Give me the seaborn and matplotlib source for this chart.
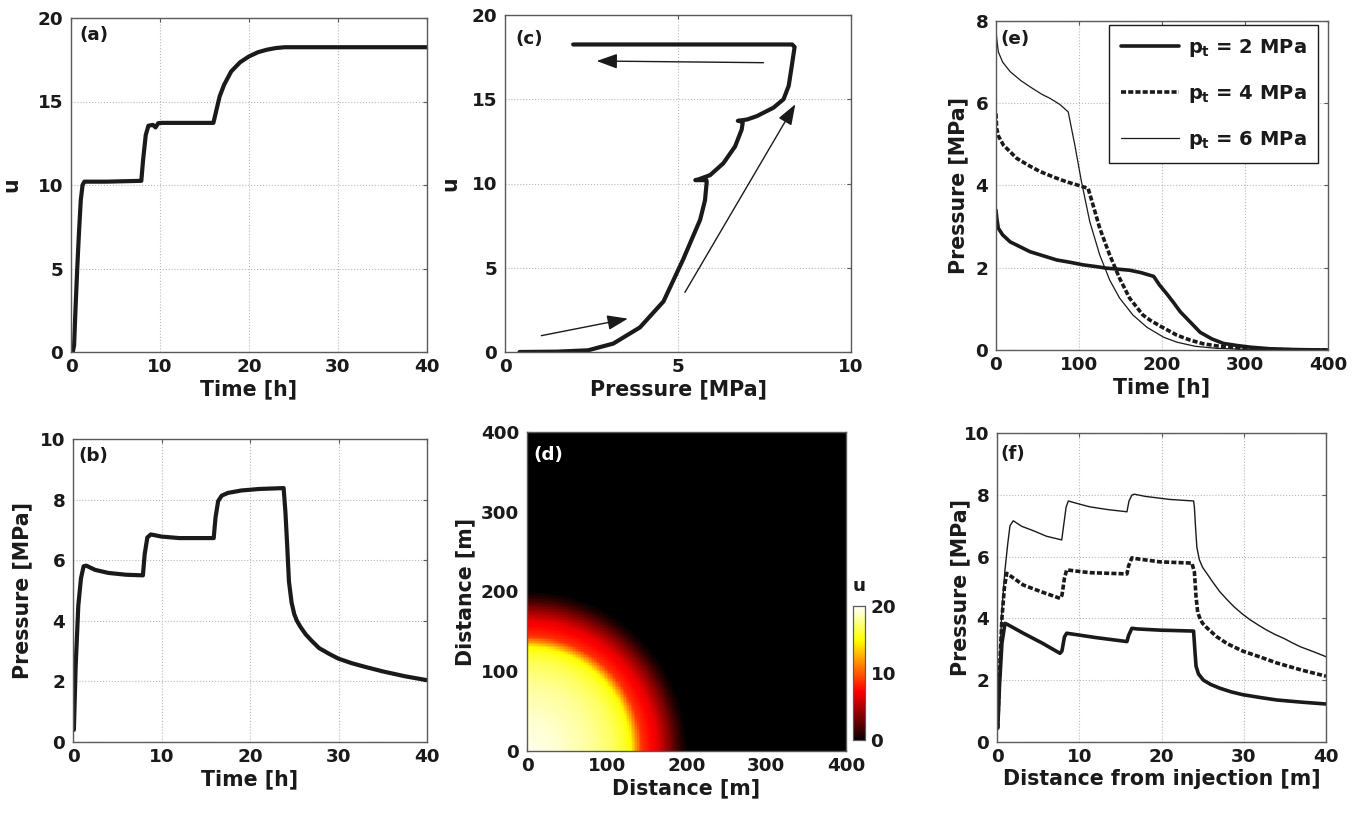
import numpy as np
import pandas as pd
import matplotlib
matplotlib.use("Agg")
import matplotlib.pyplot as plt
from matplotlib.colors import ListedColormap
import seaborn as sns

# ---------------- data ----------------
# (a) u vs time
t_a = [0, 0.2, 0.35, 0.5, 0.7, 0.9, 1.1, 1.3, 1.5, 4, 7.9, 8.1, 8.4, 8.7, 9.2, 9.5, 9.8, 10.2,
       16.0, 16.3, 16.7, 17.2, 18.0, 19.0, 20.0, 21.0, 22.0, 23.0, 24.0, 30, 40]
u_a = [0, 0, 0.4, 2.5, 5.0, 7.2, 9.1, 10.0, 10.2, 10.2, 10.25, 11.5, 13.0, 13.55, 13.6, 13.45, 13.7, 13.72,
       13.72, 14.4, 15.3, 16.0, 16.8, 17.35, 17.7, 17.95, 18.1, 18.2, 18.25, 18.25, 18.25]

# (b) pressure vs time
t_b = [0.1, 0.3, 0.6, 0.9, 1.2, 1.5, 2.5, 4, 6, 7.9, 8.1, 8.4, 8.8, 10, 12, 15.9, 16.1, 16.4, 16.8,
       17.5, 19, 21, 23.8, 24.0, 24.2, 24.4, 24.7, 25.0, 25.3, 25.7, 26.3, 27.0, 27.8, 29.0, 30.0, 31.5,
       33.0, 35.0, 37.5, 40]
p_b = [0.4, 2.5, 4.5, 5.4, 5.8, 5.82, 5.68, 5.58, 5.52, 5.5, 6.2, 6.75, 6.85, 6.78, 6.73, 6.73, 7.4, 7.95, 8.13,
       8.22, 8.3, 8.35, 8.38, 7.6, 6.5, 5.3, 4.6, 4.22, 4.0, 3.8, 3.55, 3.33, 3.1, 2.9, 2.75, 2.6,
       2.48, 2.33, 2.17, 2.04]

# (c) u vs pressure
p_c = [0.42, 1.5, 2.4, 3.13, 3.9, 4.58, 5.15, 5.64, 5.78, 5.83, 5.82, 5.65, 5.5, 5.6, 5.93, 6.31, 6.65,
       6.84, 6.87, 6.8, 6.73, 7.0, 7.28, 7.76, 8.05, 8.2, 8.29, 8.37, 8.3, 6.0, 4.0, 1.97]
u_c = [0, 0.02, 0.1, 0.5, 1.46, 3.0, 5.5, 7.85, 9.0, 10.1, 10.2, 10.2, 10.2, 10.25, 10.5, 11.2, 12.2,
       13.2, 13.6, 13.7, 13.72, 13.8, 14.0, 14.5, 15.0, 15.8, 17.0, 18.1, 18.25, 18.25, 18.25, 18.25]
# arrows in (c): (start P, start u, end P, end u)
arrows_c = [(1.05, 0.97, 3.55, 1.98), (5.2, 3.54, 8.39, 14.7), (7.47, 17.17, 2.65, 17.27)]

# (d) radial profile of u (distance [m] -> u)
r_d = [0, 40, 80, 108, 124, 131, 137, 144, 154, 164, 172, 180, 187, 194, 200, 600]
u_d = [19.6, 19.0, 18.0, 16.8, 15.6, 14.6, 11.8, 8.8, 7.6, 6.6, 5.0, 3.4, 1.9, 0.6, 0, 0]
d_ticks = [0, 100, 200, 300, 400]

# (e) pressure vs time for three p_t
labels_e = ["$p_t$ = 2 MPa", "$p_t$ = 4 MPa", "$p_t$ = 6 MPa"]
t_e2 = [0, 1, 2.8, 8, 17, 30, 41, 57, 73, 90, 105, 120, 133, 150, 161, 175, 190, 197, 206, 214, 222,
        234, 246, 260, 274, 290, 306, 330, 360, 400]
p_e2 = [3.4, 3.2, 2.96, 2.8, 2.63, 2.5, 2.39, 2.29, 2.19, 2.13, 2.07, 2.03, 1.99, 1.96, 1.94, 1.88, 1.79,
        1.58, 1.36, 1.15, 0.93, 0.68, 0.43, 0.27, 0.16, 0.11, 0.07, 0.03, 0.01, 0]
t_e4 = [0, 0.8, 3, 9, 25, 40, 53, 70, 85, 100, 111, 117, 125, 137, 149, 161, 177, 186, 198, 218, 234,
        250, 266, 300, 340, 400]
p_e4 = [5.75, 5.39, 5.2, 4.98, 4.66, 4.48, 4.34, 4.2, 4.09, 4.0, 3.93, 3.52, 2.96, 2.31, 1.74, 1.26,
        0.85, 0.72, 0.58, 0.36, 0.24, 0.15, 0.1, 0.04, 0.01, 0]
t_e6 = [0, 1, 2.8, 8, 17, 30, 41, 55, 65, 77, 87, 95, 103, 113, 125, 137, 149, 165, 182, 202, 218,
        240, 266, 300, 350, 400]
p_e6 = [7.78, 7.55, 7.25, 7.0, 6.77, 6.55, 6.4, 6.22, 6.12, 5.97, 5.79, 4.98, 4.09, 3.12, 2.31, 1.70,
        1.26, 0.85, 0.55, 0.31, 0.19, 0.09, 0.04, 0.015, 0, 0]

# (f) pressure vs distance for three p_t
x_f2 = [0.1, 0.3, 0.6, 0.97, 1.3, 3.2, 5.5, 7.66, 7.9, 8.2, 8.47, 10, 12, 15.8, 16.0, 16.4, 17, 19.8,
        23.9, 24.05, 24.2, 24.5, 25.1, 26, 27.1, 28.5, 29.9, 32, 34, 37, 40]
p_f2 = [0.45, 1.8, 3.2, 3.84, 3.8, 3.52, 3.2, 2.87, 2.95, 3.4, 3.52, 3.46, 3.38, 3.25, 3.45, 3.68, 3.66,
        3.62, 3.59, 3.0, 2.45, 2.2, 2.0, 1.86, 1.74, 1.62, 1.53, 1.44, 1.36, 1.29, 1.23]
x_f4 = [0.1, 0.3, 0.6, 0.9, 1.18, 1.5, 3.2, 5.5, 7.66, 7.9, 8.2, 8.47, 10, 11.3, 13.5, 15.8, 16.0, 16.4,
        17, 19.8, 23.7, 24.0, 24.2, 24.4, 24.7, 25.0, 25.5, 26.7, 28, 29.9, 32, 34, 37, 40]
p_f4 = [0.45, 2.3, 4.0, 5.0, 5.46, 5.4, 5.08, 4.85, 4.65, 4.75, 5.3, 5.57, 5.52, 5.48, 5.46, 5.44, 5.7,
        5.96, 5.93, 5.83, 5.79, 5.5, 4.7, 4.2, 3.98, 3.84, 3.7, 3.41, 3.18, 2.94, 2.75, 2.56, 2.33, 2.13]
x_f6 = [0.1, 0.3, 0.6, 0.97, 1.3, 1.58, 1.98, 3, 4.4, 6, 7.87, 8.1, 8.4, 8.67, 10, 11.3, 13.5, 15.8,
        16.05, 16.4, 16.7, 18, 21, 23.9, 24.0, 24.15, 24.3, 24.6, 25.0, 25.5, 26.3, 27.1, 28.0, 28.8,
        29.8, 30.8, 31.8, 32.8, 33.8, 34.9, 35.9, 36.9, 38.5, 40]
p_f6 = [0.45, 2.5, 4.3, 5.57, 6.4, 7.0, 7.16, 6.98, 6.84, 6.66, 6.54, 7.0, 7.6, 7.8, 7.7, 7.61, 7.52,
        7.45, 7.8, 7.99, 8.02, 7.95, 7.85, 7.8, 7.6, 6.9, 6.3, 5.9, 5.65, 5.46, 5.15, 4.86, 4.6, 4.38,
        4.15, 3.95, 3.78, 3.62, 3.48, 3.35, 3.21, 3.08, 2.92, 2.76]

# ---------------- style ----------------
sns.set_theme(style="white")
plt.rcParams["font.family"] = ["DejaVu Sans"]
plt.rcParams["font.weight"] = "bold"
plt.rcParams["axes.labelweight"] = "bold"
plt.rcParams["text.color"] = "black"
plt.rcParams["axes.labelcolor"] = "black"
plt.rcParams["xtick.color"] = "black"
plt.rcParams["ytick.color"] = "black"
plt.rcParams["mathtext.fontset"] = "custom"
plt.rcParams["mathtext.rm"] = "DejaVu Sans:bold"
plt.rcParams["mathtext.it"] = "DejaVu Sans:bold"
plt.rcParams["mathtext.bf"] = "DejaVu Sans:bold"

W, H = 1362, 814
fig = plt.figure(figsize=(W / 100, H / 100), dpi=100)
TICK, LAB, PAN = 13.2, 14.8, 13.2
SPINE = "#5a5a5a"


def add_ax(l, r, t, b):
    return fig.add_axes([l / W, 1 - b / H, (r - l) / W, (b - t) / H])


def style(ax, xlim, ylim, xticks, yticks, xlabel, ylabel, ylab_x, panel, pxy, grid=True, pcolor="k"):
    ax.set_xlim(xlim)
    ax.set_ylim(ylim)
    ax.set_xticks(xticks)
    ax.set_yticks(yticks)
    ax.set_xticklabels([str(v) for v in xticks])
    ax.set_yticklabels([str(v) for v in yticks])
    ax.tick_params(direction="in", length=3, width=0.8, color=SPINE, labelcolor="k",
                   top=True, right=True, labelsize=TICK)
    ax.tick_params(axis="x", pad=4.5)
    ax.tick_params(axis="y", pad=5.5)
    for s in ax.spines.values():
        s.set_visible(True)
        s.set_color(SPINE)
        s.set_linewidth(1.0)
    if grid:
        ax.grid(True, linestyle=":", color="#b8b8b8", linewidth=0.8)
        ax.set_axisbelow(True)
    ax.set_xlabel(xlabel, fontsize=LAB, fontweight="bold", labelpad=2, color="k")
    ax.set_ylabel(ylabel, fontsize=LAB, fontweight="bold", color="k")
    ax.yaxis.set_label_coords(ylab_x, 0.5)
    ax.text(pxy[0], pxy[1], panel, transform=ax.transAxes, ha="left", va="top",
            fontsize=PAN, fontweight="bold", color=pcolor)


# (a)
ax_a = add_ax(71, 427, 18, 352)
sns.lineplot(x=t_a, y=u_a, ax=ax_a, color="k", lw=3, sort=False, estimator=None)
style(ax_a, (0, 40), (0, 20), [0, 10, 20, 30, 40], [0, 5, 10, 15, 20], "Time [h]", "u", -0.14,
      "(a)", (0.023, 0.975))

# (b)
ax_b = add_ax(73, 427, 439, 742)
sns.lineplot(x=t_b, y=p_b, ax=ax_b, color="k", lw=3, sort=False, estimator=None)
style(ax_b, (0, 40), (0, 10), [0, 10, 20, 30, 40], [0, 2, 4, 6, 8, 10], "Time [h]", "Pressure [MPa]",
      -0.116, "(b)", (0.014, 0.972))

# (c)
ax_c = add_ax(505, 851, 15, 352)
sns.lineplot(x=p_c, y=u_c, ax=ax_c, color="k", lw=3, sort=False, estimator=None)
for (x0, y0, x1, y1) in arrows_c:
    ax_c.annotate("", xy=(x1, y1), xytext=(x0, y0),
                  arrowprops=dict(arrowstyle="-|>,head_length=1.05,head_width=0.38", lw=1.0,
                                  color="k", shrinkA=0, shrinkB=0))
style(ax_c, (0, 10), (0, 20), [0, 5, 10], [0, 5, 10, 15, 20], "Pressure [MPa]", "u", -0.13,
      "(c)", (0.029, 0.955))

# (d) heatmap
cell = 2.0
n = int(400 / cell)
cc = (np.arange(n) + 0.5) * cell
XX, YY = np.meshgrid(cc, cc)
field = np.interp(np.sqrt(XX ** 2 + YY ** 2), r_d, u_d)
hot_cols = plt.get_cmap("hot")(np.linspace(0, 1, 256))
hot_cols[0] = [0, 0, 0, 1]
hot_cmap = ListedColormap(hot_cols)
ax_d = add_ax(527, 846, 432, 751)
cax = add_ax(853, 865, 606, 740)
sns.heatmap(field, ax=ax_d, cmap=hot_cmap, vmin=0, vmax=20, cbar_ax=cax,
            cbar_kws={"ticks": [0, 10, 20]}, xticklabels=False, yticklabels=False, rasterized=True)
pos = [v / cell for v in d_ticks]
ax_d.set_xlim(0, n)
ax_d.set_ylim(0, n)
ax_d.set_xticks(pos)
ax_d.set_yticks(pos)
ax_d.tick_params(direction="in", length=3, width=0.8, color=SPINE, labelcolor="k", labelsize=TICK,
                 bottom=True, left=True)
ax_d.tick_params(axis="x", pad=4.5)
ax_d.tick_params(axis="y", pad=5.5)
ax_d.set_xticklabels([str(v) for v in d_ticks], rotation=0)
ax_d.set_yticklabels([str(v) for v in d_ticks], rotation=0)
for s in ax_d.spines.values():
    s.set_visible(True)
    s.set_color(SPINE)
    s.set_linewidth(1.0)
ax_d.set_xlabel("Distance [m]", fontsize=LAB, fontweight="bold", labelpad=2, color="k")
ax_d.set_ylabel("Distance [m]", fontsize=LAB, fontweight="bold", color="k")
ax_d.yaxis.set_label_coords(-0.163, 0.5)
ax_d.text(0.019, 0.955, "(d)", transform=ax_d.transAxes, ha="left", va="top",
          fontsize=PAN, fontweight="bold", color="white")
cax.tick_params(labelsize=TICK, length=3, width=0.8, direction="in", color=SPINE, labelcolor="k", pad=4)
cax.set_yticklabels(["0", "10", "20"])
for s in cax.spines.values():
    s.set_visible(True)
    s.set_color(SPINE)
    s.set_linewidth(0.8)
cax.set_title("u", fontsize=TICK, fontweight="bold", pad=11, color="k")

# (e)
ax_e = add_ax(996, 1328, 21, 350)
dash = (0, (1.4, 0.6))
sns.lineplot(x=t_e2, y=p_e2, ax=ax_e, color="k", lw=2.6, sort=False, estimator=None, label=labels_e[0])
sns.lineplot(x=t_e4, y=p_e4, ax=ax_e, color="k", lw=2.6, sort=False, estimator=None, label=labels_e[1],
             linestyle=dash)
sns.lineplot(x=t_e6, y=p_e6, ax=ax_e, color="k", lw=0.9, sort=False, estimator=None, label=labels_e[2])
style(ax_e, (0, 400), (0, 8), [0, 100, 200, 300, 400], [0, 2, 4, 6, 8], "Time [h]", "Pressure [MPa]",
      -0.084, "(e)", (0.012, 0.972))
leg = ax_e.legend(loc="upper right", bbox_to_anchor=(1 - 10 / 332, 1 - 4 / 329), borderaxespad=0,
                  fontsize=14, handlelength=3.0, handletextpad=0.45, labelspacing=1.25, borderpad=0.6,
                  frameon=True, fancybox=False, edgecolor="k", framealpha=1)
leg.get_frame().set_linewidth(1.0)
for txt in leg.get_texts():
    txt.set_color("k")

# (f)
ax_f = add_ax(997, 1326, 433, 742)
sns.lineplot(x=x_f2, y=p_f2, ax=ax_f, color="k", lw=2.6, sort=False, estimator=None)
sns.lineplot(x=x_f4, y=p_f4, ax=ax_f, color="k", lw=2.6, sort=False, estimator=None, linestyle=dash)
sns.lineplot(x=x_f6, y=p_f6, ax=ax_f, color="k", lw=1.0, sort=False, estimator=None)
style(ax_f, (0, 40), (0, 10), [0, 10, 20, 30, 40], [0, 2, 4, 6, 8, 10], "Distance from injection [m]",
      "Pressure [MPa]", -0.082, "(f)", (0.01, 0.962))

fig.savefig("out.png", dpi=100)
